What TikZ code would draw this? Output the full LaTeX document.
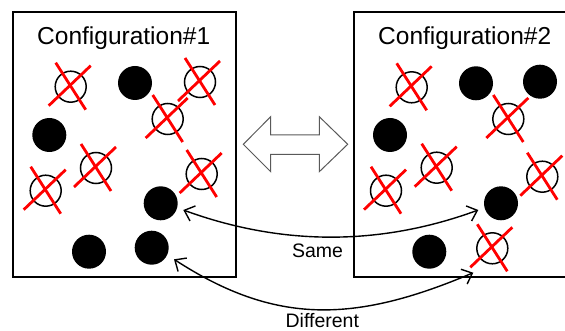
\documentclass[tikz,border=0pt]{standalone}
\usepackage{fontspec}
\setmainfont{Liberation Sans}
\usetikzlibrary{arrows.meta}

\tikzset{
  panel/.style={line width=2pt, black},
  solid dot/.style={circle, fill=black, minimum size=34pt, inner sep=0pt, outer sep=0pt},
  open dot/.style={circle, draw=black, line width=1.5pt, minimum size=31pt, inner sep=0pt, outer sep=0pt},
  strike/.style={red, line width=2.8pt},
  title/.style={anchor=base, font=\fontsize{24.5}{28}\selectfont},
  caption/.style={anchor=base, inner sep=0pt, font=\fontsize{19.5}{23}\selectfont},
  link/.style={line width=1.4pt, {Straight Barb[length=9pt,width=16pt,line width=1.4pt]}-{Straight Barb[length=9pt,width=16pt,line width=1.4pt]}},
  swap/.style={draw=black!65, line width=1pt, fill=white, line join=miter},
}

\begin{document}
\begin{tikzpicture}[x=1pt, y=-1pt]
\useasboundingbox (0,0) rectangle (565,331);

% panels
\draw[panel] (13.3,11.7) rectangle (236,276.5);
\draw[panel] (565,11.7) -- (354,11.7) -- (354,276.5) -- (565,276.5);

\node[title] (t1) at (123.7,45) {Configuration\#1};
\node[title] (t2) at (464.7,45) {Configuration\#2};

% configuration 1
\node[open dot]  (l1)  at (70.7,86.7)  {};
\node[solid dot] (l2)  at (135,83)     {};
\node[open dot]  (l3)  at (200,82)     {};
\node[open dot]  (l4)  at (167.7,119)  {};
\node[solid dot] (l5)  at (49.3,135)   {};
\node[open dot]  (l6)  at (96,168)     {};
\node[open dot]  (l7)  at (45.7,190.7) {};
\node[open dot]  (l8)  at (201.7,174)  {};
\node[solid dot] (l9)  at (160.7,203.3){};
\node[solid dot] (l10) at (89,251.7)   {};
\node[solid dot] (l11) at (151.7,247.7){};

% configuration 2
\node[open dot]  (r1)  at (411.7,87.3) {};
\node[solid dot] (r2)  at (476,83.3)   {};
\node[solid dot] (r3)  at (540,81.7)   {};
\node[open dot]  (r4)  at (508.3,119)  {};
\node[solid dot] (r5)  at (390,135)    {};
\node[open dot]  (r6)  at (436.7,167.7){};
\node[open dot]  (r7)  at (386,190.7)  {};
\node[open dot]  (r8)  at (542.3,176.7){};
\node[solid dot] (r9)  at (501,203.3)  {};
\node[solid dot] (r10) at (429.3,251.7){};
\node[open dot]  (r11) at (492.3,248.3){};

% red strike-through on the open dots
\foreach \n in {l1,l3,l4,l6,l7,l8,r1,r4,r6,r7,r8,r11}{
  \draw[strike] ([shift={(-22,19)}]\n.center) -- ([shift={(20,-21)}]\n.center);
  \draw[strike] ([shift={(-15,-24)}]\n.center) -- ([shift={(15,23)}]\n.center);
}

% hollow double arrow between the panels
\draw[swap] (243.3,144.3) -- (270.7,116.7) -- (270.7,135) -- (319.3,135)
  -- (319.3,116.7) -- (347.7,144.3) -- (319.3,171.7) -- (319.3,154.3)
  -- (270.7,154.3) -- (270.7,171.7) -- cycle;

% correspondence arrows
\draw[link] ([shift={(22.6,6.7)}]l9.center) .. controls +(98.7,36) and +(-98.3,36) .. ([shift={(-22.7,6.7)}]r9.center);
\node[caption] (same) at (317.5,258) {Same};

\draw[link] ([shift={(22.3,11.6)}]l11.center) .. controls +(100.7,65.4) and +(-119.7,50.8) .. ([shift={(-19,24.4)}]r11.center);
\node[caption] (diff) at (322.3,327.8) {Different};
\end{tikzpicture}
\end{document}
